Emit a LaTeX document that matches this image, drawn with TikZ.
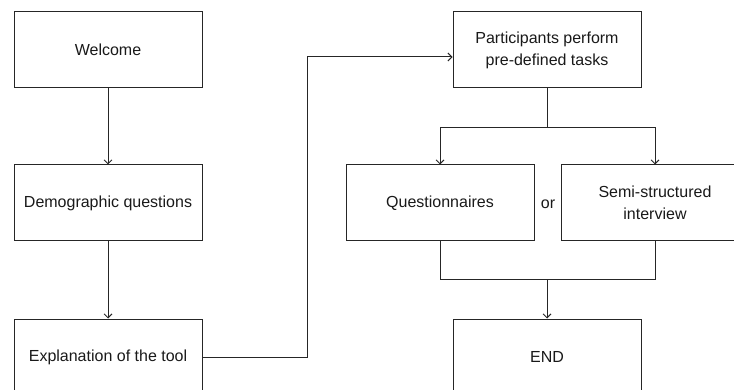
\documentclass[tikz,border=0pt]{standalone}
\usepackage{fontspec}
\setmainfont{Liberation Sans}
\usetikzlibrary{arrows.meta}
\begin{document}
\begin{tikzpicture}[x=1pt,y=-1pt,
  stepbox/.style={draw=black!85, line width=1pt, minimum width=188pt, minimum height=76pt,
    inner sep=0pt, align=center, font=\fontsize{16}{22}\selectfont, text=black!90},
  conn/.style={draw=black!85, line width=1pt},
  arr/.style={conn, -{Straight Barb[length=4pt,width=8pt,line width=0.9pt]}}]
\useasboundingbox (0,0) rectangle (734,390);
\node[stepbox] (welcome) at (108,50) {Welcome};
\node[stepbox] (demo) at (108,203) {Demographic questions};
\node[stepbox] (expl) at (108,357) {Explanation of the tool};
\node[stepbox] (part) at (547,50) {Participants perform\\pre-defined tasks};
\node[stepbox] (quest) at (440,203) {Questionnaires};
\node[stepbox] (semi) at (655,203) {Semi-structured\\interview};
\node[stepbox] (end) at (547,357) {END};
\node[font=\fontsize{16}{22}\selectfont, text=black!90] (or) at (548,204) {or};
\draw[arr] (welcome) -- (demo);
\draw[arr] (demo) -- (expl);
\draw[arr] (expl.east) -- ++(105,0) |- ([yshift=-7pt]part.west);
\draw[conn] (part.south) -- ++(0,39) coordinate (br);
\draw[arr] (br) -| (quest.north);
\draw[arr] (br) -| (semi.north);
\draw[conn] (quest.south) -- ++(0,38) coordinate (ml) -| (semi.south);
\draw[arr] (ml -| end.north) -- (end.north);
\end{tikzpicture}
\end{document}
